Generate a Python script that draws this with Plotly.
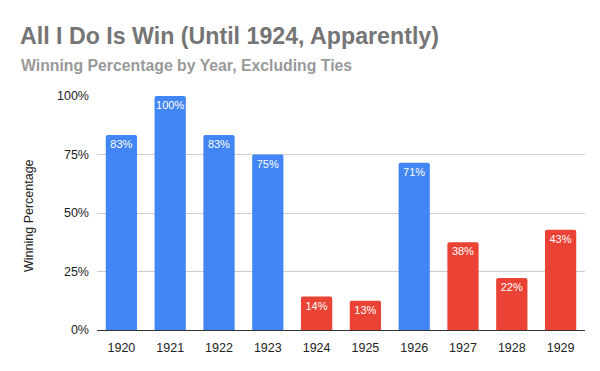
import plotly.graph_objects as go

years = ["1920", "1921", "1922", "1923", "1924", "1925", "1926", "1927", "1928", "1929"]
win_pct = [5/6, 1.0, 5/6, 0.75, 1/7, 1/8, 5/7, 3/8, 2/9, 3/7]
winning_season = [True, True, True, True, False, False, True, False, False, False]
value_labels = ["83%", "100%", "83%", "75%", "14%", "13%", "71%", "38%", "22%", "43%"]
y_ticks = [0, 0.25, 0.5, 0.75, 1.0]
y_tick_labels = ["0%", "25%", "50%", "75%", "100%"]

BLUE = "#4285F4"
RED = "#EA4335"
colors = [BLUE if w else RED for w in winning_season]

# page body has an 8px margin; work in reference-pixel coordinates and shift
OFF = 8
W, H = 584, 355
PLOT_L, PLOT_R, PLOT_T, PLOT_B = 97, 585, 96, 330   # in reference pixels
L = PLOT_L - OFF
T = PLOT_T - OFF
R = W - (PLOT_R - OFF)
B = H - (PLOT_B - OFF)
pw, ph = PLOT_R - PLOT_L, PLOT_B - PLOT_T

def px_x(x):
    return (x - PLOT_L) / pw

def px_y(y):
    return (PLOT_B - y) / ph

FONT = "Liberation Sans, Arial, sans-serif"

fig = go.Figure(go.Bar(
    x=years, y=win_pct,
    marker=dict(color=colors, line=dict(width=0), cornerradius=2),
    text=value_labels, textposition="inside", insidetextanchor="end",
    textangle=0,
    textfont=dict(color="white", size=11, family=FONT),
    hoverinfo="skip",
))

fig.update_layout(
    width=W, height=H,
    margin=dict(l=L, r=R, t=T, b=B, pad=0),
    paper_bgcolor="white", plot_bgcolor="white",
    bargap=0.36,
    showlegend=False,
    uniformtext=dict(minsize=11, mode="show"),
    font=dict(family=FONT, color="#222222", size=12),
    xaxis=dict(
        type="category", showgrid=False, showline=True, linecolor="#333333", linewidth=1,
        ticks="", tickfont=dict(size=12.5, color="#222222"), ticklabelstandoff=6,
    ),
    yaxis=dict(
        range=[0, 1.0], tickvals=y_ticks, ticktext=y_tick_labels,
        showgrid=True, gridcolor="#CCCCCC", gridwidth=1, zeroline=False,
        showline=False, ticks="", tickfont=dict(size=12.5, color="#222222"),
        ticklabelstandoff=7,
    ),
    annotations=[
        dict(text="<b>All I Do Is Win (Until 1924, Apparently)</b>", xref="paper", yref="paper",
             x=px_x(18), y=px_y(36), xanchor="left", yanchor="middle", showarrow=False,
             font=dict(family=FONT, size=23.2, color="#757575")),
        dict(text="<b>Winning Percentage by Year, Excluding Ties</b>", xref="paper", yref="paper",
             x=px_x(19), y=px_y(65), xanchor="left", yanchor="middle", showarrow=False,
             font=dict(family=FONT, size=15.8, color="#999999")),
        dict(text="Winning Percentage", xref="paper", yref="paper",
             x=px_x(29), y=px_y(216), xanchor="center", yanchor="middle", showarrow=False,
             textangle=-90,
             font=dict(family=FONT, size=12.5, color="#222222")),
    ],
)

fig.write_html("out.html")
